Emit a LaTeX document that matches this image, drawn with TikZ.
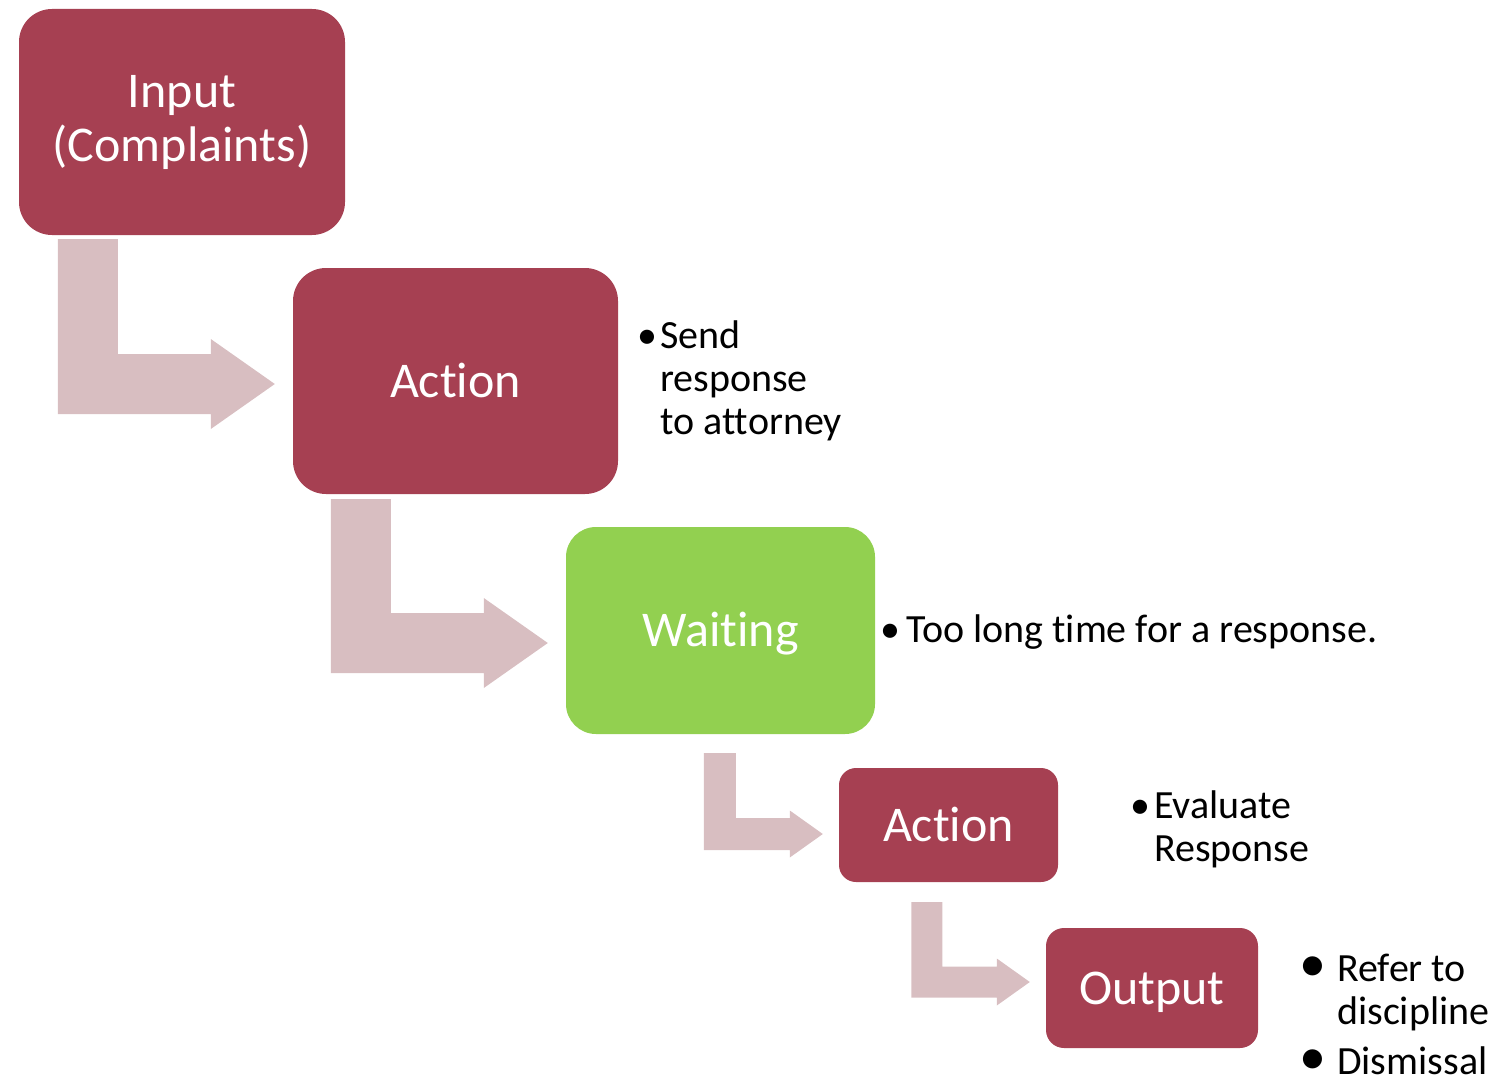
\documentclass[tikz,border=0pt]{standalone}
\usepackage{fontspec}
\setmainfont{Carlito}[Ligatures=NoCommon]
\usetikzlibrary{calc}

\definecolor{stagered}{RGB}{166,64,82}
\definecolor{stagegreen}{RGB}{146,208,80}
\definecolor{flowpink}{RGB}{216,190,193}

% Bent (L-shaped) block arrow: #1 top centre of the vertical bar,
% #2 arrow point, #3 half bar width, #4 head length, #5 half head width
\newcommand\bentarrow[5]{%
  \fill[flowpink] let \p1=(#1), \p2=(#2) in
    ({\x1-#3pt},\y1) -- ({\x1+#3pt},\y1) -- ({\x1+#3pt},{\y2+#3pt})
    -- ({\x2-#4pt},{\y2+#3pt}) -- ({\x2-#4pt},{\y2+#5pt}) -- (\x2,\y2)
    -- ({\x2-#4pt},{\y2-#5pt}) -- ({\x2-#4pt},{\y2-#3pt})
    -- ({\x1-#3pt},{\y2-#3pt}) -- cycle;}

% bullet mark in a box of width #1
\newcommand\bulletmark[1]{\makebox[#1][l]{\hspace{-3pt}•}}
\newcommand\bigbulletmark[1]{\makebox[#1][l]{\hspace{-4pt}\fontsize{54}{43}\selectfont •}}

\tikzset{
  stage/.style={rectangle, rounded corners=#1, inner sep=0pt, text=white,
    font=\fontsize{50}{54}\selectfont},
  stage/.default=30pt,
  oneline/.style={text height=32pt, text depth=0pt},
  note/.style={anchor=base west, inner sep=0pt, text=black,
    font=\fontsize{40}{43}\selectfont},
}

\begin{document}
\begin{tikzpicture}[x=1pt, y=-1pt]
\useasboundingbox (0,0) rectangle (1503,1081);

% process stages
\node[stage=33pt, fill=stagered, minimum width=326pt, minimum height=226pt,
      align=center] (in1) at (182,122) {\rule{0pt}{2pt}Input\\(Complaints)};
\node[stage=33pt, fill=stagered, oneline, minimum width=325pt,
      minimum height=226pt] (act1) at (455.5,381) {Action};
\node[stage=30pt, fill=stagegreen, oneline, minimum width=309pt,
      minimum height=207pt] (wait) at (720.5,630.5) {Waiting};
\node[stage=17pt, fill=stagered, oneline, minimum width=219pt,
      minimum height=114pt] (act2) at (948.5,825) {Action};
\node[stage=18pt, fill=stagered, oneline, minimum width=212pt,
      minimum height=120pt] (out) at (1152,988) {Output};

% bullet notes beside the stages
\node[note] (n1) at (640,348) {\parbox[t]{260pt}{\hangindent=20pt\hangafter=1
  \bulletmark{20pt}Send\\response\\to attorney}};
\node[note] (n2) at (883,642) {\bulletmark{23pt}Too long time for a response.};
\node[note] (n3) at (1133,818) {\parbox[t]{200pt}{\hangindent=21pt\hangafter=1
  \bulletmark{21pt}Evaluate\\Response}};
\node[note] (n4) at (1303,981) {\parbox[t]{200pt}{\parskip=7pt
  \hangindent=34pt\hangafter=1
  \bigbulletmark{34pt}Refer to\\discipline\par
  \hangindent=34pt\hangafter=1
  \bigbulletmark{34pt}Dismissal}};

% arrow ends
\coordinate (s1) at ([xshift=69pt,yshift=-4pt]in1.south west);
\coordinate (t1) at ([xshift=-18pt,yshift=-3pt]act1.west);
\coordinate (s2) at ([xshift=68pt,yshift=-5pt]act1.south west);
\coordinate (t2) at ([xshift=-18pt,yshift=-12.5pt]wait.west);
\coordinate (s3) at ([xshift=154pt,yshift=-19pt]wait.south west);
\coordinate (t3) at ([xshift=-16pt,yshift=-9pt]act2.west);
\coordinate (s4) at ([xshift=88pt,yshift=-20pt]act2.south west);
\coordinate (t4) at ([xshift=-16pt,yshift=6pt]out.west);

% connectors between stages
\bentarrow{s1}{t1}{30}{64}{45}
\bentarrow{s2}{t2}{30}{64}{45}
\bentarrow{s3}{t3}{16}{33}{23.5}
\bentarrow{s4}{t4}{15.5}{33}{23.5}
\end{tikzpicture}
\end{document}
